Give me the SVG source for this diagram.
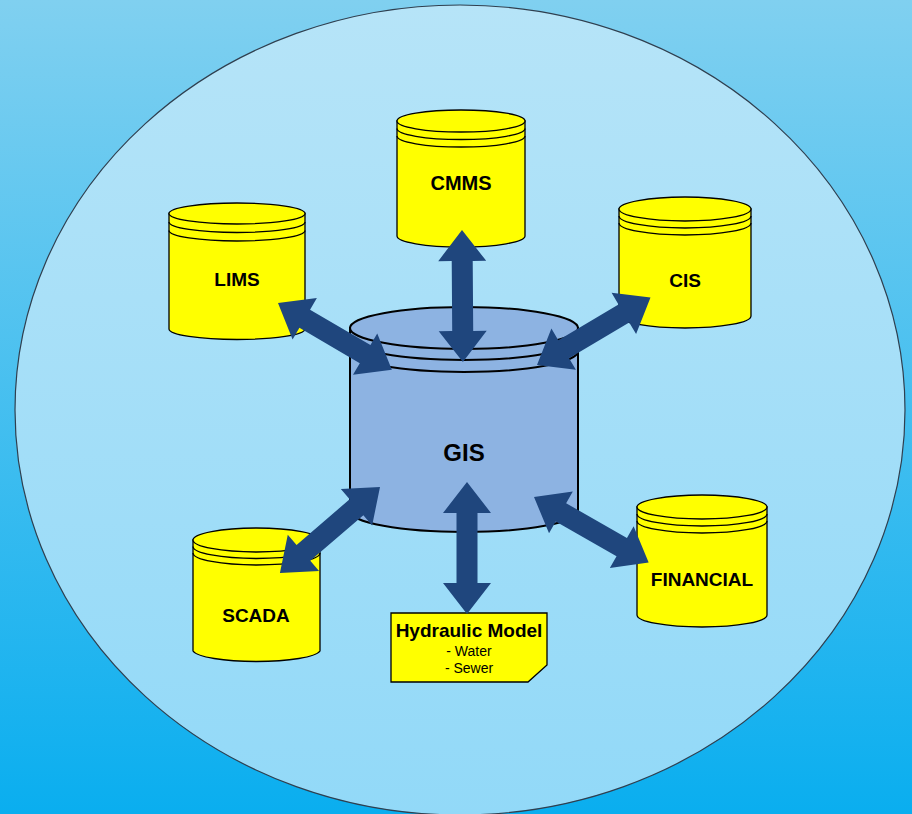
<svg xmlns="http://www.w3.org/2000/svg" width="912" height="814" viewBox="0 0 912 814">
  <defs>
    <linearGradient id="bg" x1="0" y1="0" x2="0" y2="1">
      <stop offset="0" stop-color="#80d0f0"/>
      <stop offset="1" stop-color="#0aaeef"/>
    </linearGradient>
    <linearGradient id="halo" x1="0" y1="0" x2="0" y2="1">
      <stop offset="0" stop-color="#b6e4f8"/>
      <stop offset="1" stop-color="#92d9f8"/>
    </linearGradient>
    <!-- double-headed arrow, laid along +x, length 132 -->
    <path id="dbl" d="M0,0 L31,-24 L31,-10.5 L101,-10.5 L101,-24 L132,0 L101,24 L101,10.5 L31,10.5 L31,24 Z"/>
  </defs>
  <style>
    .db { fill: #ffff00; stroke: #000; stroke-width: 1.3; }
    .ring { fill: none; stroke: #000; stroke-width: 1.3; }
    .gis { fill: #8db3e2; stroke: #000; stroke-width: 2; }
    .gisring { fill: none; stroke: #000; stroke-width: 2; }
    .lbl { font-family: "Liberation Sans", Arial, sans-serif; font-weight: bold; font-size: 19px; fill: #000; text-anchor: middle; }
    .arrow { fill: #1f467d; }
    .small { font-family: "Liberation Sans", Arial, sans-serif; font-size: 14px; fill: #000; text-anchor: middle; }
  </style>

  <rect x="0" y="0" width="912" height="814" fill="url(#bg)"/>
  <ellipse cx="460" cy="410" rx="445" ry="405" fill="url(#halo)" stroke="#2f3f4f" stroke-width="1.2"/>

  <!-- central GIS store -->
  <g id="gis">
    <path class="gis" d="M350,328 L350,511 A114,21 0 0 0 578,511 L578,328 Z"/>
    <ellipse class="gis" cx="464" cy="328" rx="114" ry="21"/>
    <path class="gisring" d="M350,339 A114,21 0 0 0 578,339"/>
    <path class="gisring" d="M350,351 A114,21 0 0 0 578,351"/>
    <text class="lbl" x="464" y="461" style="font-size:24px">GIS</text>
  </g>

  <g id="lims">
    <path class="db" d="M169,213.5 L169,329 A68,10.5 0 0 0 305,329 L305,213.5 Z"/>
    <ellipse class="db" cx="237" cy="213.5" rx="68" ry="10.5"/>
    <path class="ring" d="M169,222 A68,10.5 0 0 0 305,222"/>
    <path class="ring" d="M169,230.5 A68,10.5 0 0 0 305,230.5"/>
    <text class="lbl" x="237" y="286">LIMS</text>
  </g>

  <g id="cmms">
    <path class="db" d="M397,121 L397,236 A64,11 0 0 0 525,236 L525,121 Z"/>
    <ellipse class="db" cx="461" cy="121" rx="64" ry="11"/>
    <path class="ring" d="M397,128.5 A64,11 0 0 0 525,128.5"/>
    <path class="ring" d="M397,136 A64,11 0 0 0 525,136"/>
    <text class="lbl" x="461" y="190" style="font-size:20px">CMMS</text>
  </g>

  <g id="cis">
    <path class="db" d="M619,209 L619,316 A66,12 0 0 0 751,316 L751,209 Z"/>
    <ellipse class="db" cx="685" cy="209" rx="66" ry="12"/>
    <path class="ring" d="M619,216 A66,12 0 0 0 751,216"/>
    <path class="ring" d="M619,223 A66,12 0 0 0 751,223"/>
    <text class="lbl" x="685" y="287">CIS</text>
  </g>

  <g id="financial">
    <path class="db" d="M637,507 L637,615 A65,12 0 0 0 767,615 L767,507 Z"/>
    <ellipse class="db" cx="702" cy="507" rx="65" ry="12"/>
    <path class="ring" d="M637,514 A65,12 0 0 0 767,514"/>
    <path class="ring" d="M637,521 A65,12 0 0 0 767,521"/>
    <text class="lbl" x="702" y="586">FINANCIAL</text>
  </g>

  <g id="scada">
    <path class="db" d="M193,540 L193,651 A64,12 0 0 0 320,651 L320,540 Z"/>
    <ellipse class="db" cx="256.5" cy="540" rx="63.5" ry="12"/>
    <path class="ring" d="M193,546.5 A63.5,12 0 0 0 320,546.5"/>
    <path class="ring" d="M193,553 A63.5,12 0 0 0 320,553"/>
    <text class="lbl" x="256" y="622">SCADA</text>
  </g>

  <g id="hydraulic">
    <path class="db" d="M391,613 L547,613 L547,665 L528,682 L391,682 Z"/>
    <text class="lbl" x="469" y="637" style="font-size:19px">Hydraulic Model</text>
    <text class="small" x="469" y="656">- Water</text>
    <text class="small" x="469" y="673">- Sewer</text>
  </g>

  <!-- data exchange links -->
  <g id="connectors" class="arrow">
    <use href="#dbl" transform="translate(278,303) rotate(30.4)"/>
    <use href="#dbl" transform="translate(462,230) rotate(89.6)"/>
    <use href="#dbl" transform="translate(537,365) rotate(-30.7)"/>
    <use href="#dbl" transform="translate(380,487) rotate(139.3)"/>
    <use href="#dbl" transform="translate(467,482) rotate(90)"/>
    <use href="#dbl" transform="translate(534,497) rotate(29.7)"/>
  </g>
</svg>
